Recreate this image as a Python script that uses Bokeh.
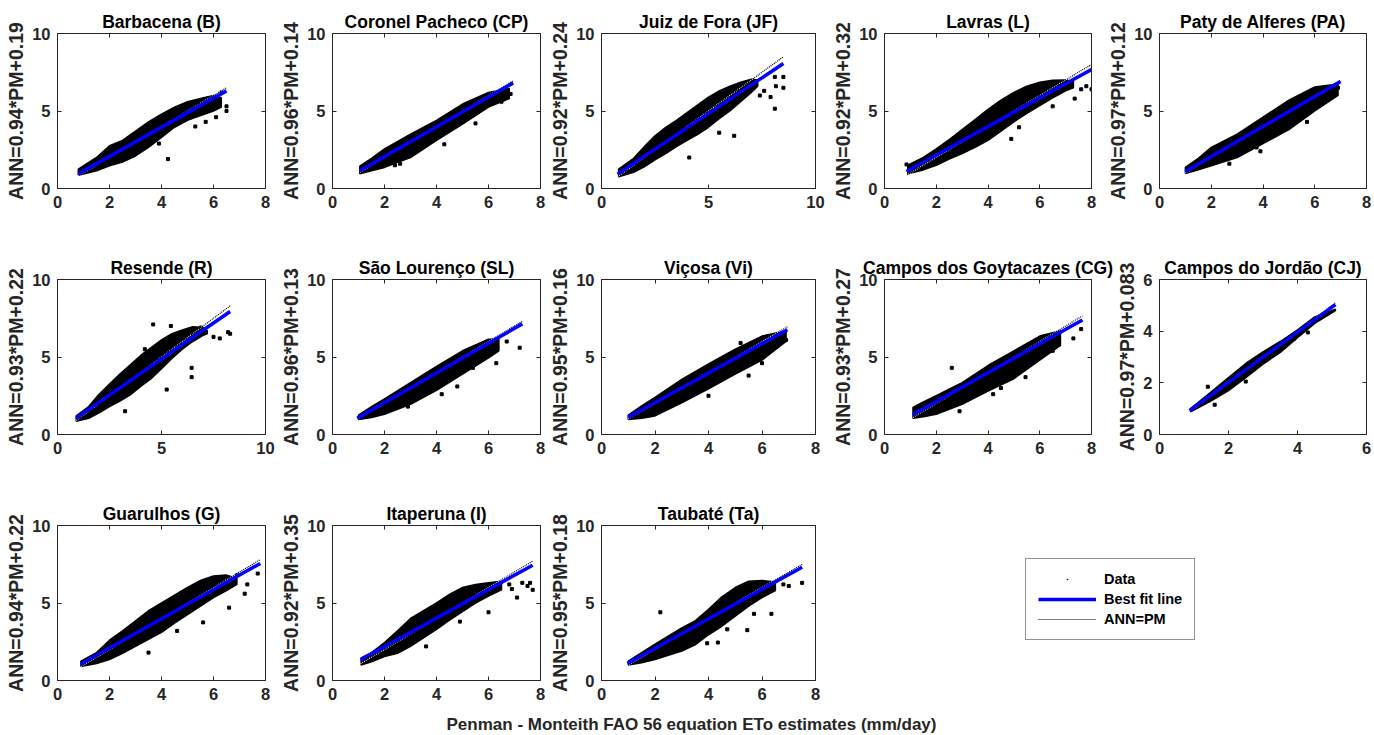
from bokeh.plotting import figure
from bokeh.layouts import row, column
from bokeh.models import Range1d, FixedTicker, LinearAxis, Legend, LegendItem, Label
from bokeh.embed import file_html
from bokeh.resources import INLINE

FONT = "Liberation Sans"
AX = "#262626"

# ---------------- data ----------------
stations = ["Barbacena (B)", "Coronel Pacheco (CP)", "Juiz de Fora (JF)", "Lavras (L)",
            "Paty de Alferes (PA)", "Resende (R)", "São Lourenço (SL)", "Viçosa (Vi)",
            "Campos dos Goytacazes (CG)", "Campos do Jordão (CJ)", "Guarulhos (G)",
            "Itaperuna (I)", "Taubaté (Ta)"]
codes = ["B", "CP", "JF", "L", "PA", "R", "SL", "Vi", "CG", "CJ", "G", "I", "Ta"]
slopes = [0.94, 0.96, 0.92, 0.92, 0.97, 0.93, 0.96, 0.95, 0.93, 0.97, 0.94, 0.92, 0.95]
intercepts = [0.19, 0.14, 0.24, 0.32, 0.12, 0.22, 0.13, 0.16, 0.27, 0.083, 0.22, 0.35, 0.18]
fit_labels = ["ANN=0.94*PM+0.19", "ANN=0.96*PM+0.14", "ANN=0.92*PM+0.24", "ANN=0.92*PM+0.32",
              "ANN=0.97*PM+0.12", "ANN=0.93*PM+0.22", "ANN=0.96*PM+0.13", "ANN=0.95*PM+0.16",
              "ANN=0.93*PM+0.27", "ANN=0.97*PM+0.083", "ANN=0.94*PM+0.22", "ANN=0.92*PM+0.35",
              "ANN=0.95*PM+0.18"]
pm_min = [0.8, 1.05, 0.75, 0.85, 1.0, 0.9, 0.95, 1.0, 1.1, 0.87, 0.9, 1.08, 0.97]
pm_max = [6.5, 6.95, 8.5, 8.0, 7.0, 8.3, 7.3, 6.95, 7.65, 5.1, 7.8, 7.7, 7.5]
x_axis_max = [8, 8, 10, 8, 8, 10, 8, 8, 8, 6, 8, 8, 8]
y_axis_max = [10, 10, 10, 10, 10, 10, 10, 10, 10, 6, 10, 10, 10]
ticks_8 = [0, 2, 4, 6, 8]
ticks_10 = [0, 5, 10]
ticks_6 = [0, 2, 4, 6]
x_label = "Penman - Monteith FAO 56 equation ETo estimates (mm/day)"
legend_labels = ["Data", "Best fit line", "ANN=PM"]

# dense point cloud of each station: PM positions, upper and lower edge of the cloud (ANN)
cloud_pm_B = [0.8, 1.5, 2, 2.5, 3, 3.5, 4, 4.5, 5, 5.5, 6, 6.3]
cloud_hi_B = [1.25, 2.0, 2.76, 3.1, 3.7, 4.3, 4.8, 5.25, 5.6, 5.8, 6.0, 5.85]
cloud_lo_B = [0.85, 1.15, 1.47, 1.7, 2.1, 2.65, 3.3, 3.95, 4.4, 4.7, 5.0, 5.25]
out_pm_B = [4.25, 5.3, 6.1, 6.5, 6.5, 3.9, 5.7, 6.3]
out_ann_B = [1.9, 4.0, 4.6, 5.0, 5.3, 2.9, 4.3, 6.2]

cloud_pm_CP = [1.05, 1.5, 2, 3, 4, 5, 6, 6.8]
cloud_hi_CP = [1.45, 1.95, 2.55, 3.5, 4.4, 5.45, 6.2, 6.45]
cloud_lo_CP = [0.95, 1.15, 1.36, 2.0, 3.1, 4.15, 5.25, 5.8]
out_pm_CP = [5.5, 2.6, 4.3, 6.85, 6.5, 2.4]
out_ann_CP = [4.2, 1.6, 2.85, 6.1, 5.6, 1.5]

cloud_pm_JF = [0.8, 1.5, 2, 2.5, 3, 3.5, 4, 4.5, 5, 5.5, 6, 6.5, 7, 7.3]
cloud_hi_JF = [1.25, 1.95, 2.7, 3.4, 3.95, 4.4, 4.9, 5.4, 5.9, 6.3, 6.6, 6.85, 7.05, 7.0]
cloud_lo_JF = [0.75, 1.05, 1.4, 1.85, 2.25, 2.7, 3.1, 3.5, 3.95, 4.5, 5.0, 5.6, 6.2, 6.6]
out_pm_JF = [8.1, 8.15, 8.5, 8.5, 8.1, 7.9, 7.6, 4.1, 6.2, 7.4, 5.5]
out_ann_JF = [7.2, 6.6, 7.2, 6.5, 5.15, 5.9, 6.3, 2.0, 3.4, 6.0, 3.6]

cloud_pm_L = [0.9, 1.5, 2, 2.5, 3, 3.5, 4, 4.5, 5, 5.5, 6, 6.5, 7, 7.3]
cloud_hi_L = [1.5, 2.0, 2.55, 3.15, 3.8, 4.45, 5.1, 5.7, 6.2, 6.6, 6.85, 6.98, 7.0, 6.9]
cloud_lo_L = [0.95, 1.2, 1.5, 1.9, 2.25, 2.65, 3.1, 3.7, 4.3, 4.85, 5.35, 5.85, 6.3, 6.5]
out_pm_L = [7.6, 8.0, 7.35, 4.9, 5.2, 7.8, 6.5, 0.85]
out_ann_L = [6.4, 6.4, 5.8, 3.2, 3.95, 6.6, 5.3, 1.55]

cloud_pm_PA = [1, 1.5, 2, 3, 4, 5, 6, 6.9]
cloud_hi_PA = [1.36, 1.95, 2.65, 3.5, 4.6, 5.7, 6.55, 6.75]
cloud_lo_PA = [0.97, 1.2, 1.47, 2.0, 2.9, 3.8, 5.0, 6.0]
out_pm_PA = [2.7, 3.75, 6.5, 5.7, 6.9, 3.9]
out_ann_PA = [1.6, 2.65, 5.7, 4.3, 6.5, 2.4]

cloud_pm_R = [0.9, 1.5, 2, 2.5, 3, 3.5, 4, 4.5, 5, 5.5, 6, 6.5, 7, 7.2]
cloud_hi_R = [1.2, 1.8, 2.6, 3.25, 3.9, 4.5, 5.1, 5.6, 6.1, 6.5, 6.75, 6.95, 6.9, 6.7]
cloud_lo_R = [0.85, 1.05, 1.4, 1.8, 2.15, 2.55, 3.1, 3.6, 4.25, 4.9, 5.5, 6.0, 6.4, 6.5]
out_pm_R = [4.6, 5.45, 7.8, 8.3, 8.2, 7.5, 6.45, 6.45, 3.25, 5.25, 4.2, 6.9]
out_ann_R = [7.1, 7.0, 6.2, 6.5, 6.6, 6.3, 4.3, 3.7, 1.5, 2.9, 5.5, 6.9]

cloud_pm_SL = [1, 1.5, 2, 3, 4, 5, 6, 6.4]
cloud_hi_SL = [1.25, 1.8, 2.3, 3.35, 4.4, 5.4, 6.15, 6.15]
cloud_lo_SL = [0.97, 1.1, 1.3, 1.95, 2.85, 3.9, 4.95, 5.4]
out_pm_SL = [7.2, 6.7, 4.8, 4.2, 5.4, 2.9, 6.3]
out_ann_SL = [5.6, 6.0, 3.1, 2.6, 4.3, 1.8, 4.6]

cloud_pm_Vi = [1, 1.5, 2, 3, 4, 5, 6, 6.9]
cloud_hi_Vi = [1.25, 1.85, 2.4, 3.55, 4.55, 5.5, 6.35, 6.7]
cloud_lo_Vi = [0.97, 1.05, 1.2, 2.05, 2.95, 3.9, 4.8, 6.0]
out_pm_Vi = [5.5, 6.0, 6.6, 4.0, 6.9, 5.2]
out_ann_Vi = [3.8, 4.6, 5.8, 2.5, 6.1, 5.9]

cloud_pm_CG = [1.1, 1.5, 2, 3, 4, 5, 6, 6.8]
cloud_hi_CG = [1.75, 2.1, 2.5, 3.35, 4.45, 5.4, 6.35, 6.7]
cloud_lo_CG = [1.05, 1.15, 1.3, 1.95, 2.8, 3.6, 4.8, 5.75]
out_pm_CG = [2.6, 5.45, 4.5, 4.2, 2.9, 7.6, 7.3, 6.5]
out_ann_CG = [4.3, 3.7, 3.0, 2.6, 1.5, 6.8, 6.2, 5.4]

cloud_pm_CJ = [0.9, 1.5, 2, 2.5, 3, 3.5, 4, 4.5, 5.1]
cloud_hi_CJ = [1.0, 1.65, 2.2, 2.75, 3.2, 3.6, 4.05, 4.55, 4.85]
cloud_lo_CJ = [0.88, 1.3, 1.7, 2.2, 2.72, 3.18, 3.75, 4.3, 4.8]
out_pm_CJ = [1.6, 1.4, 4.3, 2.5, 3.9]
out_ann_CJ = [1.15, 1.85, 3.95, 2.05, 3.7]

cloud_pm_G = [0.9, 1.5, 2, 2.5, 3, 3.5, 4, 4.5, 5, 5.5, 6, 6.5, 6.9]
cloud_hi_G = [1.25, 1.8, 2.6, 3.2, 3.85, 4.5, 5.0, 5.5, 6.0, 6.45, 6.75, 6.8, 6.6]
cloud_lo_G = [0.9, 1.1, 1.35, 1.75, 2.2, 2.65, 3.1, 3.7, 4.25, 4.8, 5.35, 5.8, 6.2]
out_pm_G = [7.3, 7.7, 6.6, 5.6, 4.6, 3.5, 7.2, 6.9]
out_ann_G = [6.2, 6.9, 4.7, 3.75, 3.2, 1.8, 5.6, 6.8]

cloud_pm_I = [1.1, 1.5, 2, 2.5, 3, 3.5, 4, 4.5, 5, 5.5, 6, 6.5]
cloud_hi_I = [1.45, 1.8, 2.45, 3.2, 4.0, 4.5, 5.0, 5.55, 6.0, 6.2, 6.3, 6.4]
cloud_lo_I = [1.0, 1.2, 1.55, 1.75, 2.2, 2.75, 3.3, 3.9, 4.45, 5.0, 5.45, 5.85]
out_pm_I = [7.6, 7.7, 7.3, 7.1, 6.9, 6.0, 4.9, 3.6, 7.5, 6.8]
out_ann_I = [6.3, 5.85, 6.3, 5.35, 5.9, 4.4, 3.8, 2.2, 6.1, 6.2]

cloud_pm_Ta = [1, 1.5, 2, 3, 3.5, 4, 4.5, 5, 5.5, 6, 6.5]
cloud_hi_Ta = [1.25, 1.8, 2.35, 3.4, 3.85, 4.6, 5.4, 6.0, 6.4, 6.45, 6.35]
cloud_lo_Ta = [1.0, 1.15, 1.35, 1.9, 2.3, 2.95, 3.5, 4.15, 4.8, 5.35, 5.8]
out_pm_Ta = [2.2, 4.7, 5.45, 5.7, 7.0, 7.5, 4.35, 3.95, 6.35, 6.8]
out_ann_Ta = [4.4, 3.3, 3.25, 4.3, 6.1, 6.3, 2.45, 2.4, 4.3, 6.2]

clouds = {
    "B": (cloud_pm_B, cloud_hi_B, cloud_lo_B, out_pm_B, out_ann_B),
    "CP": (cloud_pm_CP, cloud_hi_CP, cloud_lo_CP, out_pm_CP, out_ann_CP),
    "JF": (cloud_pm_JF, cloud_hi_JF, cloud_lo_JF, out_pm_JF, out_ann_JF),
    "L": (cloud_pm_L, cloud_hi_L, cloud_lo_L, out_pm_L, out_ann_L),
    "PA": (cloud_pm_PA, cloud_hi_PA, cloud_lo_PA, out_pm_PA, out_ann_PA),
    "R": (cloud_pm_R, cloud_hi_R, cloud_lo_R, out_pm_R, out_ann_R),
    "SL": (cloud_pm_SL, cloud_hi_SL, cloud_lo_SL, out_pm_SL, out_ann_SL),
    "Vi": (cloud_pm_Vi, cloud_hi_Vi, cloud_lo_Vi, out_pm_Vi, out_ann_Vi),
    "CG": (cloud_pm_CG, cloud_hi_CG, cloud_lo_CG, out_pm_CG, out_ann_CG),
    "CJ": (cloud_pm_CJ, cloud_hi_CJ, cloud_lo_CJ, out_pm_CJ, out_ann_CJ),
    "G": (cloud_pm_G, cloud_hi_G, cloud_lo_G, out_pm_G, out_ann_G),
    "I": (cloud_pm_I, cloud_hi_I, cloud_lo_I, out_pm_I, out_ann_I),
    "Ta": (cloud_pm_Ta, cloud_hi_Ta, cloud_lo_Ta, out_pm_Ta, out_ann_Ta),
}

# ---------------- layout geometry (pixels) ----------------
col_left = [57, 329, 595, 875, 1147]
col_w = [208, 208, 214, 207, 207]
row_bounds = [[0, 277, 543, 823, 1095, 1374],
              [0, 277, 543, 823, 1104, 1374],
              [0, 277, 543, 823, 1374, 1374]]
row_top = [0, 235, 480, 708]
frame_top = [33, 279, 525]
FH = 155
TICK_FS = "16.5px"
LAB_FS = "19.5px"
TITLE_FS = "17.5px"


def ticks_for(m):
    return ticks_10 if m == 10 else (ticks_6 if m == 6 else ticks_8)


def style_axis(ax, ticks):
    ax.ticker = FixedTicker(ticks=ticks)
    ax.major_tick_in = 4
    ax.major_tick_out = 0
    ax.minor_tick_line_color = None
    ax.axis_line_color = AX
    ax.axis_line_width = 1
    ax.major_tick_line_color = AX
    ax.major_label_text_font = FONT
    ax.major_label_text_font_style = "bold"
    ax.major_label_text_font_size = TICK_FS
    ax.major_label_text_color = AX
    ax.major_label_standoff = 7


def mirror_axis(ticks):
    # box side without labels: ticks drawn as (label-less) minor ticks
    ax = LinearAxis(ticker=FixedTicker(ticks=[], minor_ticks=ticks))
    ax.minor_tick_in = 4
    ax.minor_tick_out = 0
    ax.minor_tick_line_color = AX
    ax.major_tick_line_color = None
    ax.major_label_standoff = 0
    ax.axis_line_color = AX
    ax.axis_line_width = 1
    return ax


def make_panel(i, lb, rb, tb, bb, fw):
    code = codes[i]
    xmax, ymax = x_axis_max[i], y_axis_max[i]
    p = figure(frame_width=fw, frame_height=FH,
               x_range=Range1d(0, xmax), y_range=Range1d(0, ymax),
               output_backend="svg", toolbar_location=None,
               min_border_left=lb, min_border_right=rb,
               min_border_top=tb, min_border_bottom=bb,
               title=stations[i])
    p.outline_line_color = None
    p.grid.visible = False
    p.background_fill_color = "white"
    p.border_fill_color = "white"
    p.title.align = "center"
    p.title.text_font = FONT
    p.title.text_font_style = "bold"
    p.title.text_font_size = TITLE_FS
    p.title.text_color = "black"
    p.title.standoff = 3
    style_axis(p.xaxis[0], ticks_for(xmax))
    style_axis(p.yaxis[0], ticks_for(ymax))
    p.yaxis.axis_label = fit_labels[i]
    p.yaxis.axis_label_text_font = FONT
    p.yaxis.axis_label_text_font_style = "bold"
    p.yaxis.axis_label_text_font_size = LAB_FS
    p.yaxis.axis_label_text_color = AX
    p.yaxis.axis_label_standoff = 2
    p.add_layout(mirror_axis(ticks_for(xmax)), "above")
    p.add_layout(mirror_axis(ticks_for(ymax)), "right")

    cx, hi, lo, ox, oy = clouds[code]
    p.patch(cx + cx[::-1], hi + lo[::-1], fill_color="black", line_color="black", line_width=1.5)
    p.scatter(ox, oy, marker="square", size=3, color="black")
    x0, x1 = pm_min[i], pm_max[i]
    p.line([x0, x1], [x0, x1], line_color="white", line_width=1.2, line_dash="1 1")
    p.line([x0, x1], [x0, x1], line_color="black", line_width=1.2, line_dash="1 1", line_dash_offset=1)
    a, b = slopes[i], intercepts[i]
    p.line([x0, x1], [a * x0 + b, a * x1 + b], line_color="#0000ff", line_width=3.5)
    return p


grid_rows = [[0, 1, 2, 3, 4], [5, 6, 7, 8, 9], [10, 11, 12]]
layout_rows = []
for r, idxs in enumerate(grid_rows):
    figs = []
    bnd = row_bounds[r]
    tb = frame_top[r] - row_top[r]
    bb = row_top[r + 1] - (frame_top[r] + FH)
    for c, i in enumerate(idxs):
        lb = col_left[c] - bnd[c]
        rb = bnd[c + 1] - (col_left[c] + col_w[c])
        figs.append(make_panel(i, lb, rb, tb, bb, col_w[c]))
    if r == 2:
        lw = bnd[5] - bnd[3]
        lh = row_top[3] - row_top[2]
        lf = figure(width=lw, height=lh, x_range=Range1d(0, 1), y_range=Range1d(0, 1),
                    output_backend="svg", toolbar_location=None, min_border=0,
                    x_axis_location=None, y_axis_location=None)
        lf.outline_line_color = None
        lf.grid.visible = False
        # legend keys only: placed outside the visible range
        r_data = lf.scatter(x=[-5], y=[-5], marker="dot", size=3, color="black", line_width=3)
        r_fit = lf.line(x=[-5, -4], y=[-5, -4], line_color="#0000ff", line_width=3.5)
        r_one = lf.line(x=[-5, -4], y=[-5, -4], line_color="black", line_width=1, line_dash="1 1")
        leg = Legend(items=[LegendItem(label=legend_labels[0], renderers=[r_data]),
                            LegendItem(label=legend_labels[1], renderers=[r_fit]),
                            LegendItem(label=legend_labels[2], renderers=[r_one])],
                     location=(196, 40))
        leg.margin = 0
        leg.padding = 12
        leg.spacing = 4
        leg.label_height = 16
        leg.glyph_width = 58
        leg.glyph_height = 16
        leg.label_standoff = 8
        leg.label_text_font = FONT
        leg.label_text_font_style = "bold"
        leg.label_text_font_size = "14.5px"
        leg.label_text_color = "black"
        leg.label_text_baseline = "middle"
        leg.border_line_color = AX
        leg.border_line_width = 1
        leg.background_fill_color = "white"
        lf.add_layout(leg)
        figs.append(lf)
    layout_rows.append(row(*figs))

bf = figure(width=1374, height=735 - row_top[3], x_range=Range1d(0, 1), y_range=Range1d(0, 1),
            output_backend="svg", toolbar_location=None, min_border=0,
            x_axis_location=None, y_axis_location=None)
bf.outline_line_color = None
bf.grid.visible = False
bf.add_layout(Label(x=691, y=11, x_units="screen", y_units="screen", text=x_label,
                    text_align="center", text_baseline="middle", text_font=FONT,
                    text_font_style="bold", text_font_size="17px", text_color=AX))
layout_rows.append(bf)

page = column(*layout_rows)
open("out.html", "w").write(file_html(page, INLINE))
